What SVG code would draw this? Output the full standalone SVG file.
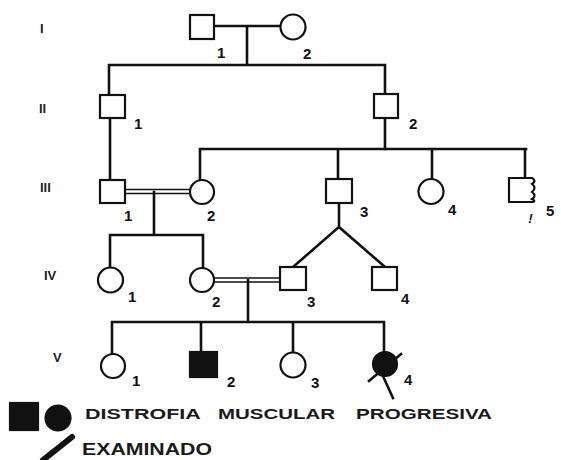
<svg xmlns="http://www.w3.org/2000/svg" width="561" height="460" viewBox="0 0 561 460">
<style>
.sym{fill:#fff;stroke:#111;stroke-width:2.2}
.aff{fill:#111;stroke:#111;stroke-width:2.2}
.ln{fill:none;stroke:#111;stroke-width:2.6;stroke-linecap:square}
.dbl{fill:none;stroke:#111;stroke-width:1.6}
.num{font-family:"Liberation Sans",Arial,sans-serif;font-weight:bold;font-size:15px;fill:#111}
.gen{font-family:"Liberation Sans",Arial,sans-serif;font-weight:bold;font-size:13px;fill:#222}
.leg{font-family:"Liberation Sans",Arial,sans-serif;font-weight:bold;font-size:15px;fill:#1a1a1a}
</style>
<rect width="561" height="460" fill="#fff"/>
<g id="generations">
<text class="gen" x="40" y="33">I</text>
<text class="gen" x="39" y="113">II</text>
<text class="gen" x="40" y="192">III</text>
<text class="gen" x="44" y="280">IV</text>
<text class="gen" x="53" y="362">V</text>
</g>
<g id="connectors">
<path class="ln" d="M214 26H281M247 26V65M109 65H385M109 65V95M385 65V94M110 118V180M385 118V149"/>
<path class="ln" d="M200 149H526M200 149V180M338 149V179M432 149V180M525 149V178"/>
<path class="dbl" d="M125 189.5H190M125 193.5H190"/>
<path class="ln" d="M154 192V235M110 235H203M110 235V268M203 235V268"/>
<path class="ln" d="M339 203V227L293 267M339 227L385 267"/>
<path class="dbl" d="M214 278H280M214 282H280"/>
<path class="ln" d="M248 280V322M112 322H384M112 322V354M201 322V352M293 322V353M384 322V352"/>
</g>
<g id="I-1"><rect class="sym" x="190" y="15" width="24" height="24"/><text class="num" x="217" y="58">1</text></g>
<g id="I-2"><circle class="sym" cx="293" cy="27" r="12.5"/><text class="num" x="303" y="59">2</text></g>
<g id="II-1"><rect class="sym" x="100" y="95" width="25" height="23"/><text class="num" x="134" y="129">1</text></g>
<g id="II-2"><rect class="sym" x="374" y="94" width="24" height="24"/><text class="num" x="409" y="129">2</text></g>
<g id="III-1"><rect class="sym" x="100" y="180" width="25" height="23"/><text class="num" x="124" y="221">1</text></g>
<g id="III-2"><circle class="sym" cx="202" cy="192" r="12"/><text class="num" x="207" y="221">2</text></g>
<g id="III-3"><rect class="sym" x="326" y="179" width="26" height="24"/><text class="num" x="360" y="217">3</text></g>
<g id="III-4"><circle class="sym" cx="431" cy="191.5" r="12.5"/><text class="num" x="448" y="215">4</text></g>
<g id="III-5"><path class="sym" d="M509 178H532Q537 181 532 184Q537 188 532 192Q537 196 532 199Q536 201 533 202H509Z"/><text class="num" x="546" y="216">5</text><text class="num" x="575" y="223" transform="skewX(-12)" style="font-size:13px">!</text></g>
<g id="IV-1"><circle class="sym" cx="110.5" cy="280" r="12.5"/><text class="num" x="128" y="302">1</text></g>
<g id="IV-2"><circle class="sym" cx="202" cy="280" r="12"/><text class="num" x="212" y="307">2</text></g>
<g id="IV-3"><rect class="sym" x="280" y="267" width="26" height="23"/><text class="num" x="307" y="307">3</text></g>
<g id="IV-4"><rect class="sym" x="372" y="267" width="25" height="23"/><text class="num" x="401" y="304">4</text></g>
<g id="V-1"><circle class="sym" cx="113" cy="366" r="12"/><text class="num" x="132" y="386">1</text></g>
<g id="V-2"><rect class="aff" x="190" y="352" width="27" height="25"/><text class="num" x="227" y="387">2</text></g>
<g id="V-3"><circle class="sym" cx="293" cy="365" r="12.5"/><text class="num" x="311" y="388">3</text></g>
<g id="V-4"><circle class="aff" cx="385" cy="364" r="12"/><path class="ln" d="M401 354L369 381" stroke-width="3"/><path class="ln" d="M382 374L393 398" stroke-width="3.5"/><text class="num" x="404" y="385">4</text></g>
<g id="legend">
<rect class="aff" x="10" y="403" width="28" height="27"/>
<circle class="aff" cx="58" cy="418" r="12.5"/>
<text class="leg" y="419"><tspan x="85" textLength="115" lengthAdjust="spacingAndGlyphs">DISTROFIA</tspan> <tspan x="218" textLength="117" lengthAdjust="spacingAndGlyphs">MUSCULAR</tspan> <tspan x="356" textLength="136" lengthAdjust="spacingAndGlyphs">PROGRESIVA</tspan></text>
<path d="M72 437L43 460" stroke="#111" stroke-width="6" stroke-linecap="round"/>
<text class="leg" x="82" y="455" textLength="130" lengthAdjust="spacingAndGlyphs" style="font-size:16px">EXAMINADO</text>
</g>
</svg>
